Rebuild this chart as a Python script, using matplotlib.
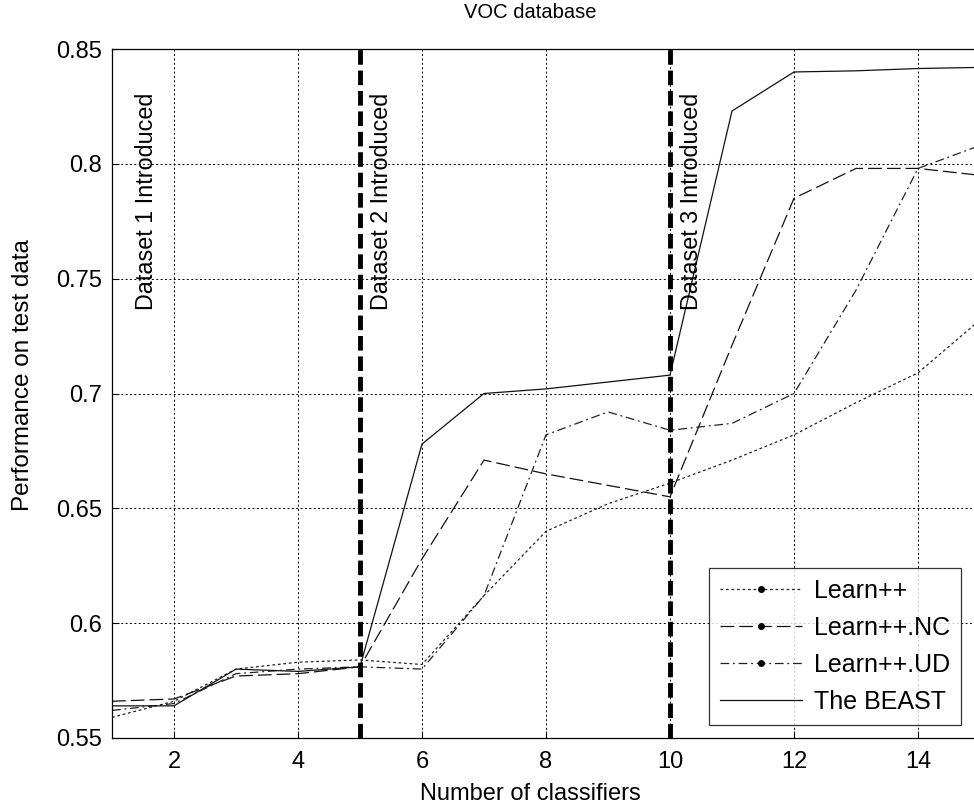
import matplotlib
matplotlib.use("Agg")
import matplotlib.pyplot as plt
from matplotlib.lines import Line2D

plt.rcParams['font.family'] = ['Liberation Sans', 'DejaVu Sans']

x = list(range(1, 16))
learn = [0.559, 0.566, 0.580, 0.583, 0.584, 0.582, 0.612, 0.640, 0.652, 0.661, 0.671, 0.682, 0.696, 0.709, 0.732]
learn_nc = [0.566, 0.567, 0.577, 0.578, 0.581, 0.628, 0.671, 0.665, 0.660, 0.655, 0.721, 0.785, 0.798, 0.798, 0.795]
learn_ud = [0.562, 0.565, 0.578, 0.580, 0.581, 0.580, 0.612, 0.682, 0.692, 0.684, 0.687, 0.700, 0.745, 0.798, 0.808]
beast = [0.564, 0.564, 0.580, 0.579, 0.581, 0.678, 0.700, 0.702, 0.705, 0.708, 0.823, 0.840, 0.8405, 0.8415, 0.842]

labels = ["Learn++", "Learn++.NC", "Learn++.UD", "The BEAST"]
dataset_x = [5, 10]
annot_x = [1.55, 5.35, 10.34]
annot_text = ["Dataset 1 Introduced", "Dataset 2 Introduced", "Dataset 3 Introduced"]
xticks = [2, 4, 6, 8, 10, 12, 14]
yticks = [0.55, 0.6, 0.65, 0.7, 0.75, 0.8, 0.85]

W, H = 974, 808
fig = plt.figure(figsize=(W / 100, H / 100), dpi=100)
left, right, top, bottom = 112, 980, 49, 738
ax = fig.add_axes([left / W, 1 - bottom / H, (right - left) / W, (bottom - top) / H])

styles = [
    dict(color='#222222', lw=0.9, dashes=(2.2, 2.2)),
    dict(color='#111111', lw=0.9, dashes=(11, 4)),
    dict(color='#222222', lw=0.9, dashes=(7, 3, 1.5, 3)),
    dict(color='#111111', lw=0.9, linestyle='-'),
]
series = [learn, learn_nc, learn_ud, beast]
for s, st in zip(series, styles):
    ax.plot(x, s, **st)

for dx in dataset_x:
    ax.axvline(dx, color='black', lw=3.5, dashes=(3, 1.2), zorder=5)

for ax_x, t in zip(annot_x, annot_text):
    ax.text(ax_x, 0.831, t, rotation=90, ha='center', va='top', fontsize=16.8)

ax.set_xlim(1, 15)
ax.set_ylim(0.55, 0.85)
ax.set_xticks(xticks)
ax.set_yticks(yticks)
ax.set_yticklabels(["0.55", "0.6", "0.65", "0.7", "0.75", "0.8", "0.85"])
ax.tick_params(direction='in', labelsize=17, length=5, width=0.8)
ax.tick_params(axis='x', pad=9)
ax.tick_params(axis='y', pad=7)
ax.grid(True, color='black', lw=0.7, dashes=(2, 2.5))
ax.set_axisbelow(True)
for sp in ax.spines.values():
    sp.set_linewidth(0.9)

fig.text(530 / W, 1 - 13 / H, "VOC database", ha='center', va='center', fontsize=14.5)
fig.text(530 / W, 1 - 794 / H, "Number of classifiers", ha='center', va='center', fontsize=17)
fig.text(23 / W, 1 - 375 / H, "Performance on test data", ha='center', va='center', rotation=90, fontsize=17.5)

markers = ['o', 'o', 'o', None]
handles = []
for st, m, lab in zip(styles, markers, labels):
    kw = dict(st)
    if m:
        kw.update(marker=m, markersize=4, markerfacecolor='black', markeredgecolor='black')
    handles.append(Line2D([], [], label=lab, **kw))
leg = ax.legend(handles=handles, loc='lower right', bbox_to_anchor=(961 / W, 1 - 725 / H),
                bbox_transform=fig.transFigure, fontsize=18, frameon=True, fancybox=False,
                edgecolor='black', handlelength=3.3, labelspacing=0.52, borderpad=0.45,
                handletextpad=0.45, markerscale=1, numpoints=1, borderaxespad=0)
leg.get_frame().set_linewidth(0.9)
leg.set_zorder(10)

fig.savefig("out.png", dpi=100)
